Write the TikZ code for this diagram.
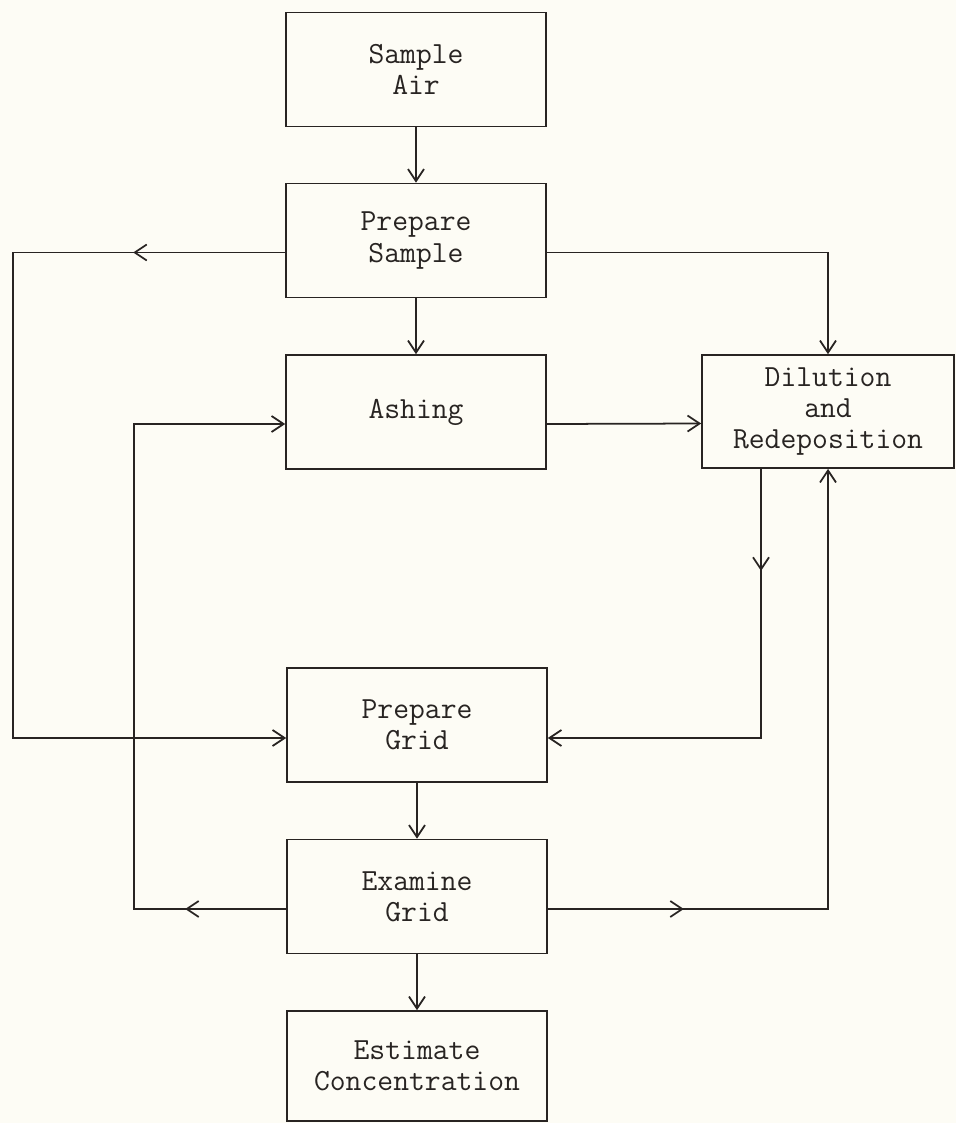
\documentclass[tikz,border=0pt]{standalone}
\usepackage{fontspec}
\usepackage{xcolor}
\usepackage{tikz}
\usetikzlibrary{arrows.meta, decorations.markings}
\definecolor{paper}{RGB}{253,252,245}
\definecolor{ink}{RGB}{40,36,34}

\begin{document}
\begin{tikzpicture}[
  x=0.02cm, y=-0.02cm,
  box/.style={
    rectangle, draw=ink, line width=1pt,
    minimum width=5.2cm, minimum height=2.28cm,
    align=center, font=\ttfamily\fontsize{17.5}{17.8}\selectfont, text=ink
  },
  arrow/.style={-{Straight Barb[length=0.24cm, width=0.32cm]}, line width=1pt, draw=ink},
  tipat/.style={postaction={decorate}, decoration={markings,
    mark=at position #1 with {\arrow{Straight Barb[length=0.24cm, width=0.32cm, line width=1pt]}}}}
]
\fill[paper] (0,0) rectangle (956,1123);
\useasboundingbox (0,0) rectangle (956,1123);

% ---- Main column ----
\node[box] (air)     at (416,69.5)  {Sample\\Air};
\node[box] (prepS)   at (416,240.5) {Prepare\\Sample};
\node[box] (ash)     at (416,412)   {Ashing};
\node[box] (prepG)   at (417,725)   {Prepare\\Grid};
\node[box] (exam)    at (417,896.5) {Examine\\Grid};
\node[box, minimum height=2.2cm]
             (est)   at (417,1066)  {Estimate\\Concentration};

% ---- Side box ----
\node[box, minimum width=5.04cm, minimum height=2.26cm]
             (dil)   at (828,411.5) {Dilution\\and\\Redeposition};

% ---- Arrows down the column ----
\draw[arrow] (air)   -- (prepS);
\draw[arrow] (prepS) -- (ash);
\draw[arrow] (prepG) -- (exam);
\draw[arrow] (exam)  -- (est);

% ---- Side loops ----
\draw[arrow, tipat=3.04cm] ([yshift=-0.24cm]prepS.west) -| (13,500) |- ([yshift=-0.26cm]prepG.west);
\draw[arrow] ([yshift=-0.24cm]prepS.east) -| (dil.north);
\draw[arrow] ([yshift=-0.24cm]ash.east) -- ([yshift=-0.24cm]dil.west);
\draw[arrow, tipat=2.02cm] ([yshift=-0.25cm]exam.west) -| (134,600) |- ([yshift=-0.24cm]ash.west);
\draw[arrow, tipat=2.04cm] ([xshift=-1.34cm]dil.south) |- ([yshift=-0.26cm]prepG.east);
\draw[arrow, tipat=2.72cm] ([yshift=-0.25cm]exam.east) -| (dil.south);

\end{tikzpicture}
\end{document}
